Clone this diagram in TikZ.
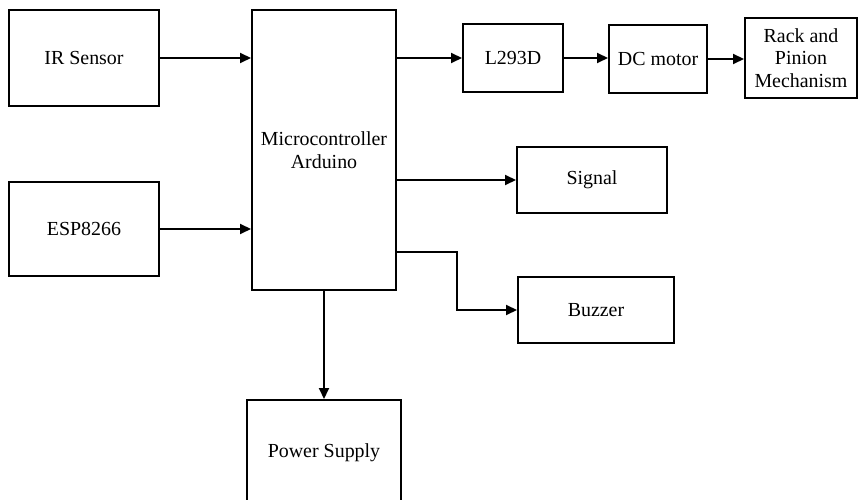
\documentclass[tikz,border=0pt]{standalone}
\usepackage{fontspec}
\setmainfont{Liberation Serif}
\usetikzlibrary{arrows.meta}

\tikzset{
    blk/.style={draw, line width=2bp, inner sep=0pt, align=center,
        font=\fontsize{20}{22.5}\selectfont},
    arr/.style={-{Triangle[length=11bp,width=10bp]}, line width=2bp}
}

\begin{document}
\begin{tikzpicture}[x=1bp, y=-1bp]

            \useasboundingbox (0,0) rectangle (858,500);
            \clip (0,0) rectangle (858,500);

            % inputs
            \node[blk, minimum width=150bp, minimum height=96bp] (ir) at (84,58) {IR Sensor};
            \node[blk, minimum width=150bp, minimum height=94bp] (esp) at (84,229) {ESP8266};

            % controller
            \node[blk, minimum width=144bp, minimum height=280bp] (mcu) at (324,150) {Microcontroller\\Arduino};

            % motor chain
            \node[blk, minimum width=100bp, minimum height=68bp] (drv) at (513,58) {L293D};
            \node[blk, minimum width=98bp, minimum height=68bp] (motor) at (658,59) {DC motor};
            \node[blk, minimum width=112bp, minimum height=80bp] (rack) at (801,58) {Rack and\\Pinion\\Mechanism};

            % outputs
            \node[blk, minimum width=150bp, minimum height=66bp] (sig) at (592,180) {Signal};
            \node[blk, minimum width=156bp, minimum height=66bp] (buzz) at (596,310) {Buzzer};
            \node[blk, minimum width=154bp, minimum height=106bp] (psu) at (324,453) {Power Supply};

            \coordinate (split) at (457,252);

            \draw[arr] (ir.east) -- (ir.east -| mcu.west);
            \draw[arr] (esp.east) -- (esp.east -| mcu.west);
            \draw[arr] (drv.west -| mcu.east) -- (drv.west);
            \draw[arr] (drv.east) -- (drv.east -| motor.west);
            \draw[arr] (motor.east) -- (motor.east -| rack.west);
            \draw[arr] (sig.west -| mcu.east) -- (sig.west);
            \draw[arr] (split -| mcu.east) -- (split) |- (buzz.west);
            \draw[arr] (mcu.south) -- (psu.north);

        \end{tikzpicture}
\end{document}
